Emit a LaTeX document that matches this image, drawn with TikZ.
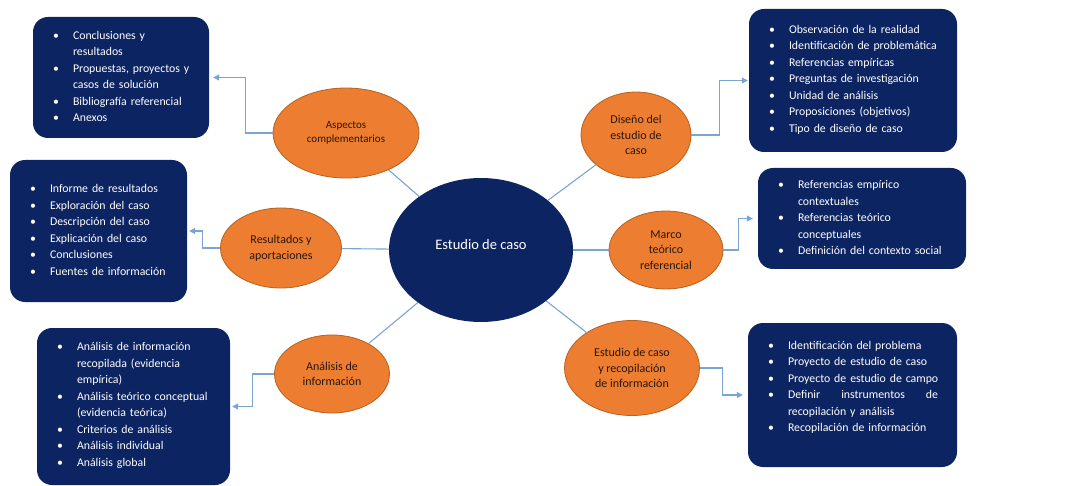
\documentclass[tikz,border=0pt]{standalone}
\usepackage{fontspec}
\setmainfont{Carlito}
\usepackage{enumitem}
\usepackage{tikz}
\usetikzlibrary{
		calc,
		positioning,
		shapes.geometric,
		arrows.meta
	}
\tikzset{
		>={Triangle[length=6pt, width=6pt]}
	}
\definecolor{navy}{HTML}{0C2461}
\definecolor{naranja}{HTML}{ED7D31}
\definecolor{borde}{HTML}{B5621F}
\definecolor{enlace}{HTML}{7BA4D3}
\definecolor{tinta}{HTML}{2A1608}
\newlist{caja}{itemize}{1}
\setlist[caja]{label=\textbullet, nosep, leftmargin=30pt, labelwidth=6pt, labelsep=14pt, align=left}

\begin{document}
\begin{tikzpicture}[x=1pt, y=-1pt,
		box/.style={fill=navy, rounded corners=15pt, text=white, inner sep=0pt, font=\fontsize{11.8}{16.5}\selectfont, execute at end node={\endgraf\vspace{10pt}}},
		tema/.style={ellipse, draw=borde, line width=0.8pt, fill=naranja, text=tinta, inner sep=0pt, align=center, font=\fontsize{12}{15.7}\selectfont},
		link/.style={draw=enlace, line width=1.1pt}]
	\useasboundingbox (0,0) rectangle (1073,486);
	% centro
	\node[ellipse, fill=navy, minimum width=184pt, minimum height=144pt] (cen) at (481,250) {};
	\node[text=white, font=\fontsize{14.5}{17}\selectfont] (cent) at (481,245) {Estudio de caso};
	% temas
	\node[tema, minimum width=146pt, minimum height=90pt, font=\fontsize{11}{14}\selectfont] (asp) at (346,133) {Aspectos\\complementarios};
	\node[tema, minimum width=121pt, minimum height=80pt] (res) at (281,248) {Resultados y\\aportaciones};
	\node[tema, minimum width=115pt, minimum height=78pt] (ana) at (332,374) {Análisis de\\información};
	\node[tema, minimum width=110pt, minimum height=86pt] (dis) at (636,135) {Diseño del\\estudio de\\caso};
	\node[tema, minimum width=114pt, minimum height=78pt] (mar) at (666,250) {Marco\\teórico\\referencial};
	\node[tema, minimum width=135pt, minimum height=95pt] (rec) at (632,368) {Estudio de caso\\y recopilación\\de información};
	% cajas
	\node[box, minimum width=176pt, minimum height=121pt, text width=156pt] (bAsp) at (121,77.5) {%
		\begin{caja}
		\item Conclusiones y\\resultados
		\item Propuestas, proyectos y\\casos de solución
		\item Bibliografía referencial
		\item Anexos
		\end{caja}};
	\node[box, minimum width=177pt, minimum height=142pt, text width=157pt] (bRes) at (98.5,231) {%
		\begin{caja}
		\item Informe de resultados
		\item Exploración del caso
		\item Descripción del caso
		\item Explicación del caso
		\item Conclusiones
		\item Fuentes de información
		\end{caja}};
	\node[box, minimum width=193pt, minimum height=157pt, text width=173pt] (bAna) at (133.5,406.5) {%
		\begin{caja}
		\item Análisis de información\\recopilada (evidencia\\empírica)
		\item Análisis teórico conceptual\\(evidencia teórica)
		\item Criterios de análisis
		\item Análisis individual
		\item Análisis global
		\end{caja}};
	\node[box, minimum width=208pt, minimum height=143pt, text width=188pt] (bDis) at (853,80.5) {%
		\begin{caja}
		\item Observación de la realidad
		\item Identificación de problemática
		\item Referencias empíricas
		\item Preguntas de investigación
		\item Unidad de análisis
		\item Proposiciones (objetivos)
		\item Tipo de diseño de caso
		\end{caja}};
	\node[box, minimum width=208pt, minimum height=101pt, text width=188pt] (bMar) at (862,218.5) {%
		\begin{caja}
		\item Referencias empírico\\contextuales
		\item Referencias teórico\\conceptuales
		\item Definición del contexto social
		\end{caja}};
	\node[box, minimum width=209pt, minimum height=144pt, text width=189pt] (bRec) at (852.5,395) {%
		\begin{caja}
		\item Identificación del problema
		\item Proyecto de estudio de caso
		\item Proyecto de estudio de campo
		\item \makebox[150pt][l]{Definir\hfill instrumentos\hfill de}\\recopilación y análisis
		\item Recopilación de información
		\end{caja}\vspace{14pt}};
	% lineas del centro
	\draw[link] (cen) -- (asp);
	\draw[link] (cen) -- (res);
	\draw[link] (cen) -- (ana);
	\draw[link] (cen) -- (dis);
	\draw[link] (cen) -- (mar);
	\draw[link] (cen) -- (rec);
	% flechas a las cajas
	\draw[link, ->, shorten >=4pt] (asp.west) -| ($(bAsp.east)+(36,0)$) -- (bAsp.east);
	\draw[link, ->, shorten >=2pt] (res.west) -| ($(bRes.east)+(15,0)$) -- (bRes.east);
	\draw[link, ->, shorten >=2pt] (ana.west) -| ($(bAna.east)+(22,0)$) -- (bAna.east);
	\draw[link, ->, shorten >=1pt] (dis.east) -| ($(bDis.west)-(29,0)$) -- (bDis.west);
	\draw[link, ->, shorten >=5pt] (mar.east) -| ($(bMar.west)-(19,0)$) -- (bMar.west);
	\draw[link, ->, shorten >=5pt] (rec.east) -| ($(bRec.west)-(25,0)$) -- (bRec.west);
\end{tikzpicture}
\end{document}
